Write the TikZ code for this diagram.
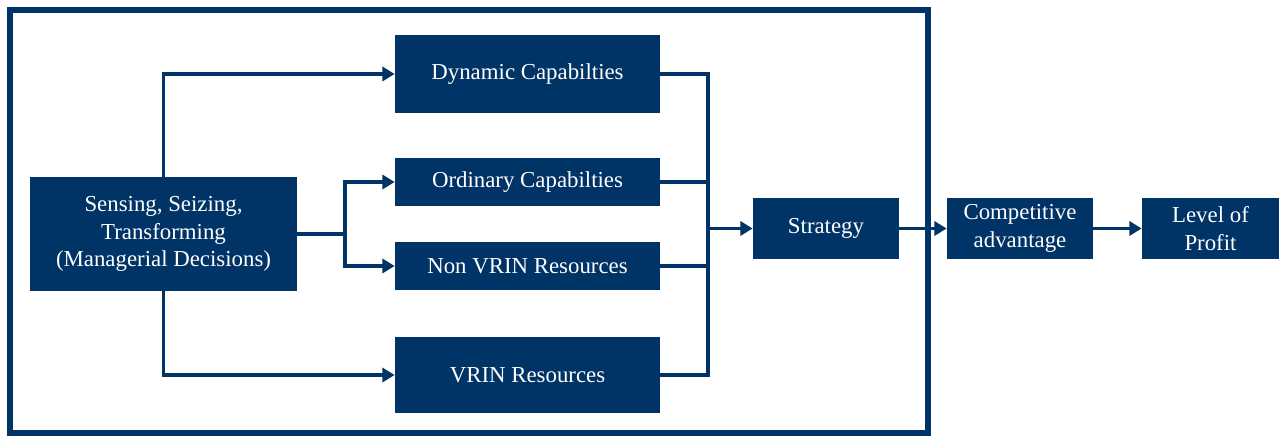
\documentclass[tikz,border=0pt]{standalone}
\usepackage{fontspec}
\setmainfont{Liberation Serif}
\usetikzlibrary{arrows.meta}

\definecolor{navy}{RGB}{0,51,102}

\tikzstyle{block} = [rectangle, fill=navy, text=white, align=center, inner sep=2pt, font=\fontsize{13}{15.6}\selectfont]
\tikzstyle{wire} = [draw=navy, line width=2.2pt]
\tikzstyle{arrow} = [wire, -{Triangle[length=7pt,width=8pt]}]

\begin{document}
\begin{tikzpicture}[x=0.02cm,y=-0.02cm]
\useasboundingbox (0,0) rectangle (1281,438);

% frame
\draw[draw=navy, line width=3pt] (10,10) rectangle (928,433);

% blocks
\node[block, minimum width=5.34cm, minimum height=2.28cm] (sense) at (163.5,234) {Sensing, Seizing,\\Transforming\\(Managerial Decisions)};
\node[block, minimum width=5.3cm, minimum height=1.56cm] (dyn) at (527.5,74) {Dynamic Capabilties};
\node[block, minimum width=5.3cm, minimum height=0.96cm] (ord) at (527.5,182) {Ordinary Capabilties};
\node[block, minimum width=5.3cm, minimum height=0.96cm] (non) at (527.5,266) {Non VRIN Resources};
\node[block, minimum width=5.3cm, minimum height=1.54cm] (vrin) at (527.5,375) {VRIN Resources};
\node[block, minimum width=2.92cm, minimum height=1.22cm] (strat) at (826,228.5) {Strategy};
\node[block, minimum width=2.92cm, minimum height=1.22cm] (comp) at (1020,228.5) {Competitive\\advantage};
\node[block, minimum width=2.74cm, minimum height=1.22cm] (profit) at (1210.5,228.5) {Level of\\Profit};

%INPUT
\coordinate (split) at (345,234);
\draw[arrow] (sense.north) |- (dyn.west);
\draw[arrow] (sense.south) |- (vrin.west);
\draw[wire] (sense.east) -- (split);
\draw[arrow] (split) |- (ord.west);
\draw[arrow] (split) |- (non.west);

% OUTPUT
\coordinate (merge) at (708,228.5);
\draw[wire] (dyn.east) -| (merge);
\draw[wire] (vrin.east) -| (merge);
\draw[wire] (ord.east) -- (ord.east -| merge);
\draw[wire] (non.east) -- (non.east -| merge);
\draw[arrow] (merge) -- (strat.west);

\draw[arrow] (strat.east) -- (comp.west);
\draw[arrow] (comp.east) -- (profit.west);
\end{tikzpicture}
\end{document}
